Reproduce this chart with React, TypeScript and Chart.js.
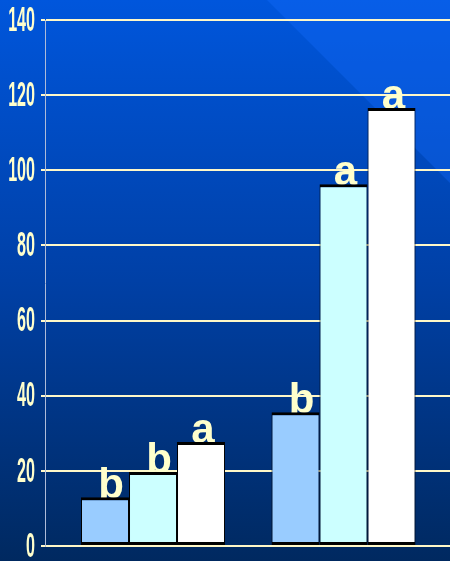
import React, { useEffect, useRef } from "react";
import { Chart, registerables } from "chart.js";

Chart.register(...registerables);

// Group positions on the x scale (two treatment groups)
const groupPositions = [1, 2];

// Bar heights for the three series in each group
const seriesLight = [13, 35.6];
const seriesCyan = [19.7, 96.3];
const seriesWhite = [27.7, 116.6];

// Significance letters printed above each bar
const lettersLight = ["b", "b"];
const lettersCyan = ["b", "a"];
const lettersWhite = ["a", "a"];

// Value axis
const yMin = 0;
const yMax = 140;
const yStep = 20;

const seriesLetters = [lettersLight, lettersCyan, lettersWhite];

const backgroundPlugin = {
  id: "slideBackground",
  beforeDraw(chart: any) {
    const { ctx, width, height } = chart;
    ctx.save();
    const g = ctx.createLinearGradient(0, 0, 0, height);
    g.addColorStop(0, "#0056dc");
    g.addColorStop(0.5, "#0040a6");
    g.addColorStop(1, "#002960");
    ctx.fillStyle = g;
    ctx.fillRect(0, 0, width, height);
    // lighter diagonal band in the upper right corner
    ctx.beginPath();
    ctx.moveTo(267, 0);
    ctx.lineTo(width, 0);
    ctx.lineTo(width, width - 267);
    ctx.closePath();
    ctx.fillStyle = "rgba(20,110,255,0.35)";
    ctx.fill();
    ctx.restore();
  },
};

const letterPlugin = {
  id: "barLetters",
  beforeDatasetsDraw(chart: any) {
    const { ctx } = chart;
    ctx.save();
    ctx.font = "bold 42px 'Liberation Sans', Arial, sans-serif";
    ctx.fillStyle = "#ffffcc";
    ctx.textAlign = "center";
    ctx.textBaseline = "alphabetic";
    chart.data.datasets.forEach((_ds: any, di: number) => {
      const meta = chart.getDatasetMeta(di);
      meta.data.forEach((bar: any, i: number) => {
        const letter = seriesLetters[di][i];
        const nudge = letter === "b" ? 6 : 2;
        ctx.fillText(letter, bar.x + nudge, bar.y + 1);
      });
    });
    ctx.restore();
  },
};

const tickLabelPlugin = {
  id: "narrowTickLabels",
  afterDraw(chart: any) {
    const { ctx } = chart;
    const y = chart.scales.y;
    ctx.save();
    ctx.font = "bold 35px 'Liberation Sans', Arial, sans-serif";
    ctx.fillStyle = "#ffffcc";
    ctx.textAlign = "right";
    ctx.textBaseline = "middle";
    y.ticks.forEach((t: any) => {
      const py = y.getPixelForValue(t.value);
      ctx.save();
      ctx.translate(35, py + 1);
      ctx.scale(0.46, 1);
      ctx.fillText(String(t.value), 0, 0);
      ctx.restore();
    });
    ctx.restore();
  },
};

export default function App() {
  const canvasRef = useRef<HTMLCanvasElement | null>(null);

  useEffect(() => {
    document.body.style.margin = "0";
    const canvas = canvasRef.current;
    if (!canvas) return;

    const toPoints = (vals: number[]) =>
      vals.map((v, i) => ({ x: groupPositions[i], y: v }));

    const border = { top: 3, bottom: 3, left: 1, right: 1 };

    const chart = new Chart(canvas, {
      type: "bar",
      data: {
        datasets: [
          {
            data: toPoints(seriesLight),
            backgroundColor: "#99ccff",
            borderColor: "#000000",
            borderWidth: border,
            borderSkipped: false,
          },
          {
            data: toPoints(seriesCyan),
            backgroundColor: "#ccffff",
            borderColor: "#000000",
            borderWidth: border,
            borderSkipped: false,
          },
          {
            data: toPoints(seriesWhite),
            backgroundColor: "#ffffff",
            borderColor: "#000000",
            borderWidth: border,
            borderSkipped: false,
          },
        ] as any,
      },
      options: {
        responsive: false,
        animation: false,
        devicePixelRatio: 1,
        layout: { padding: { top: 20, bottom: 15, left: 0, right: 0 } },
        datasets: {
          bar: { categoryPercentage: 0.756, barPercentage: 1 },
        } as any,
        plugins: {
          legend: { display: false },
          tooltip: { enabled: false },
          title: { display: false },
        },
        scales: {
          x: {
            type: "linear",
            min: 0.433,
            max: 2.559,
            display: false,
            afterBuildTicks: (s: any) => {
              s.ticks = [];
            },
          },
          y: {
            min: yMin,
            max: yMax,
            position: "left",
            afterFit: (s: any) => {
              s.width = 45;
            },
            ticks: { stepSize: yStep, display: false },
            grid: {
              color: "#fff8c8",
              lineWidth: 2,
              drawTicks: true,
              tickLength: 4,
            },
            border: { display: true, color: "#aebbd8", width: 1 },
          },
        },
      } as any,
      plugins: [backgroundPlugin, letterPlugin, tickLabelPlugin],
    });

    return () => chart.destroy();
  }, []);

  return (
    <div style={{ position: "fixed", left: 0, top: 0, width: 450, height: 561 }}>
      <canvas ref={canvasRef} width={450} height={561} />
    </div>
  );
}
